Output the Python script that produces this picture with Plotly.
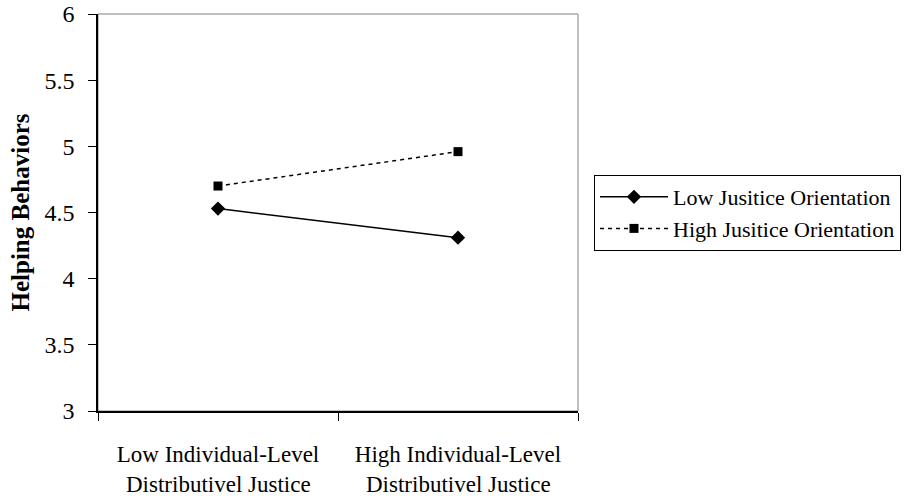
import plotly.graph_objects as go

# Interaction plot: helping behaviors by distributive justice and justice orientation
category_line1 = ["Low Individual-Level", "High Individual-Level"]
category_line2 = ["Distributivel Justice", "Distributivel Justice"]
low_orientation = [4.53, 4.31]
high_orientation = [4.70, 4.96]
y_ticks = [3, 3.5, 4, 4.5, 5, 5.5, 6]
y_tick_labels = ["3", "3.5", "4", "4.5", "5", "5.5", "6"]

serif = "Liberation Serif, Times New Roman, serif"
categories = list(range(len(category_line1)))

fig = go.Figure()
fig.add_trace(go.Scatter(
    x=categories, y=low_orientation, name="Low Jusitice Orientation",
    mode="lines+markers",
    line=dict(color="black", width=1.5),
    marker=dict(symbol="diamond", size=11, color="black"),
))
fig.add_trace(go.Scatter(
    x=categories, y=high_orientation, name="High Jusitice Orientation",
    mode="lines+markers",
    line=dict(color="black", width=1.5, dash="4px,4px"),
    marker=dict(symbol="square", size=9, color="black"),
))

# gray frame on top/right of plotting area
fig.add_shape(type="rect", xref="paper", yref="paper", x0=0, y0=0, x1=1, y1=1,
              line=dict(color="#808080", width=1), layer="below")

# second line of each category label, with wider line spacing
for i, txt in enumerate(category_line2):
    fig.add_annotation(x=categories[i], xref="x", y=-0.186, yref="paper",
                       text=txt, showarrow=False, xanchor="center", yanchor="middle",
                       font=dict(family=serif, size=23, color="black"))

fig.update_layout(
    width=909, height=500,
    margin=dict(l=98, r=331, t=14, b=89, autoexpand=False),
    paper_bgcolor="white", plot_bgcolor="white",
    font=dict(family=serif, size=23, color="black"),
    showlegend=True,
    legend=dict(
        xref="container", yref="container",
        x=594 / 909, y=1 - 213 / 500, xanchor="left", yanchor="middle",
        bordercolor="black", borderwidth=1,
        font=dict(family=serif, size=22, color="black"),
        itemwidth=68, tracegroupgap=0,
    ),
    xaxis=dict(
        range=[-0.5, 1.5], automargin=False,
        tickvals=categories, ticktext=category_line1,
        ticks="", showline=True, linecolor="black", linewidth=1.5,
        showgrid=False, zeroline=False,
        tickfont=dict(family=serif, size=23, color="black"),
        ticklabelstandoff=22,
        minor=dict(tickvals=[-0.5, 0.5, 1.5], ticks="outside", ticklen=8,
                   tickcolor="black", showgrid=False),
    ),
    yaxis=dict(
        range=[3, 6], automargin=False,
        tickvals=y_ticks, ticktext=y_tick_labels,
        ticks="outside", ticklen=8, tickcolor="black",
        showline=True, linecolor="black", linewidth=1.5,
        showgrid=False, zeroline=False,
        tickfont=dict(family=serif, size=24, color="black"),
        ticklabelstandoff=9,
        title=dict(text="<b>Helping Behaviors</b>",
                   font=dict(family=serif, size=25, color="black"), standoff=8),
    ),
)

fig.write_html("out.html")
